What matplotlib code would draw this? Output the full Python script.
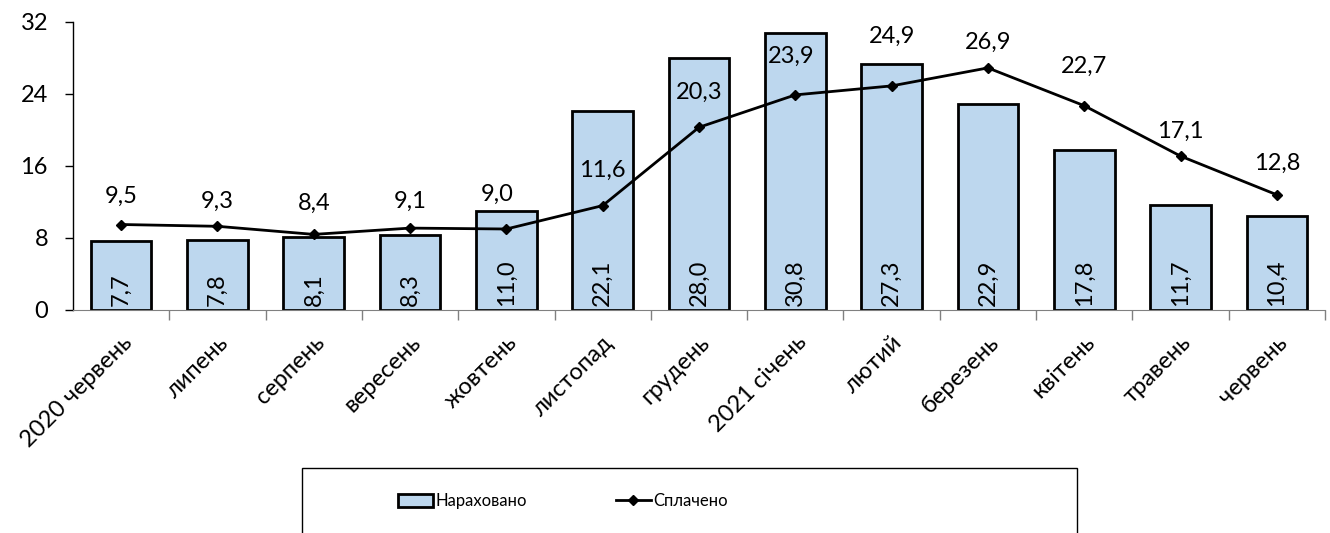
import matplotlib
matplotlib.use("Agg")
import matplotlib.pyplot as plt
from matplotlib.patches import Rectangle
from matplotlib.lines import Line2D

categories = ["2020 червень", "липень", "серпень", "вересень", "жовтень", "листопад",
              "грудень", "2021 січень", "лютий", "березень", "квітень", "травень", "червень"]
accrued = [7.7, 7.8, 8.1, 8.3, 11.0, 22.1, 28.0, 30.8, 27.3, 22.9, 17.8, 11.7, 10.4]
paid = [9.5, 9.3, 8.4, 9.1, 9.0, 11.6, 20.3, 23.9, 24.9, 26.9, 22.7, 17.1, 12.8]
yticks = [0, 8, 16, 24, 32]

# label gaps (pixels between marker and label baseline), as placed in the original
label_gap = [22, 18, 25, 20, 28, 29, 28, 32, 43, 19, 33, 18, 25]
label_dx = [0, 0, 0, 0, -9, 0, 0, -4, 0, 0, 0, 0, 0]

plt.rcParams['font.family'] = ['Lato', 'DejaVu Sans']
FS = 17

fig = plt.figure(figsize=(13.3, 5.33), dpi=100)
ax = fig.add_axes([73/1330, 1 - 310/533, (1325 - 73)/1330, (310 - 22)/533])

x = list(range(len(categories)))
ax.bar(x, accrued, width=0.63, color="#bdd7ee", edgecolor="black", linewidth=2, zorder=2)
ax.plot(x, paid, color="black", linewidth=2, marker="D", markersize=5, zorder=3)

fmt = lambda v: f"{v:.1f}".replace(".", ",")
for xi, v in zip(x, accrued):
    ax.text(xi, 0.4, fmt(v), rotation=90, ha="center", va="bottom", fontsize=FS, zorder=4)
for xi, v, g, dx in zip(x, paid, label_gap, label_dx):
    ax.annotate(fmt(v), (xi, v), xytext=(dx * 0.72, g * 0.72), textcoords="offset points",
                ha="center", va="baseline", fontsize=FS, zorder=4)

ax.set_xlim(-0.5, len(categories) - 0.5)
ax.set_ylim(0, 32)
ax.set_yticks(yticks)
ax.set_yticklabels([str(t) for t in yticks], fontsize=FS)
ax.tick_params(axis="y", length=6, width=1, direction="out", pad=12)

ax.set_xticks([i + 0.5 for i in range(len(categories))])
ax.set_xticklabels([])
ax.tick_params(axis="x", length=7, width=1, color="#808080", direction="out")
for xi, c in zip(x, categories):
    ax.text(xi + 0.0, -2.4, c, rotation=45, ha="right", va="top", fontsize=FS,
            rotation_mode="anchor")

for s in ["top", "right"]:
    ax.spines[s].set_visible(False)
ax.spines["left"].set_linewidth(1)
ax.spines["bottom"].set_color("#808080")

# legend box
fig.patches.append(Rectangle((302/1330, -0.05), (1077 - 302)/1330, 0.05 + (533 - 468)/533,
                             transform=fig.transFigure, fill=False, edgecolor="black",
                             linewidth=1))
h1 = Rectangle((0, 0), 1, 1, facecolor="#bdd7ee", edgecolor="black", linewidth=2)
h2 = Line2D([0], [0], color="black", linewidth=2, marker="D", markersize=5)
fig.legend([h1, h2], ["Нараховано", "Сплачено"], loc="center left",
           bbox_to_anchor=(390/1330, 1 - 501/533), ncol=2, frameon=False,
           fontsize=12, handlelength=2.1, handleheight=0.8, columnspacing=5.3,
           handletextpad=0.15, borderpad=0)

fig.savefig("out.png", dpi=100)
